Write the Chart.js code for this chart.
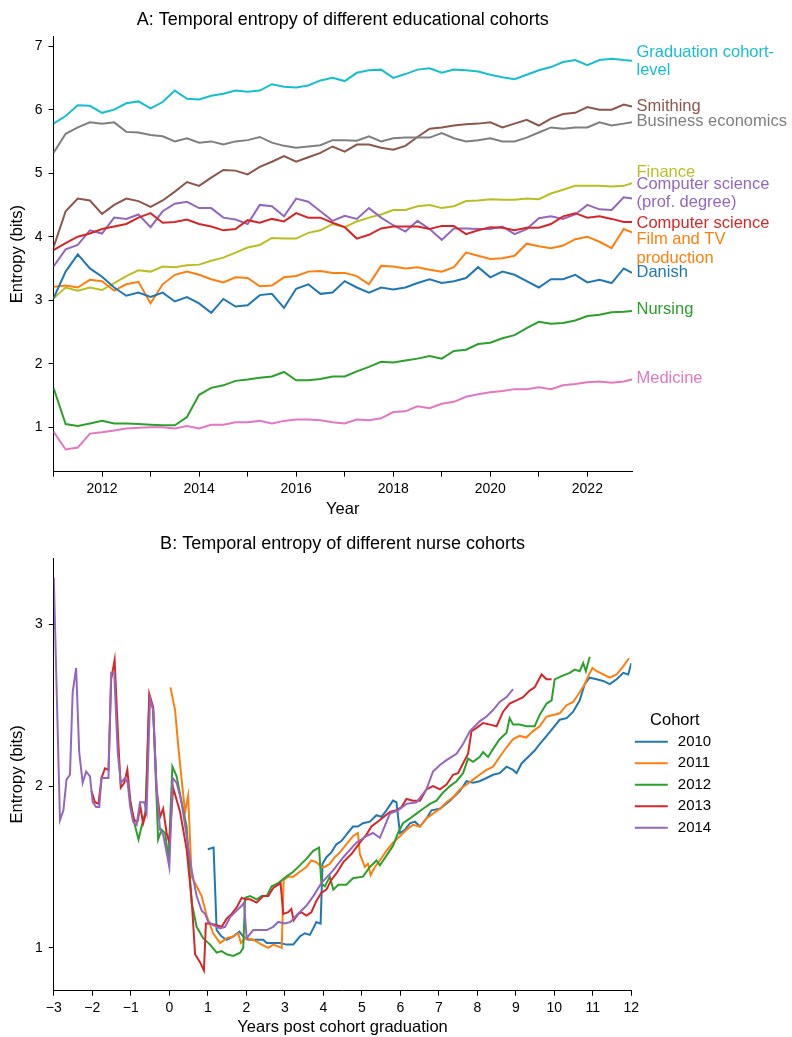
<!DOCTYPE html>
<html>
<head>
<meta charset="utf-8">
<script src="https://cdn.jsdelivr.net/npm/chart.js@4.4.1/dist/chart.umd.min.js"></script>
<style>
  html, body { margin: 0; padding: 0; background: #fff; }
  #wrap { position: relative; width: 792px; height: 1037px; }
  canvas { position: absolute; left: 0; }
  #chartA { top: 0; }
  #chartB { top: 525px; }
</style>
</head>
<body>
<div id="wrap">
  <canvas id="chartA" width="792" height="525"></canvas>
  <canvas id="chartB" width="792" height="512"></canvas>
</div>
<script>
// ---- Panel A: quarterly readings, Jan 2011 to Dec 2022 ----
const years = [
  2011, 2011.25, 2011.5, 2011.75, 2012, 2012.25, 2012.5, 2012.75,
  2013, 2013.25, 2013.5, 2013.75, 2014, 2014.25, 2014.5, 2014.75,
  2015, 2015.25, 2015.5, 2015.75, 2016, 2016.25, 2016.5, 2016.75,
  2017, 2017.25, 2017.5, 2017.75, 2018, 2018.25, 2018.5, 2018.75,
  2019, 2019.25, 2019.5, 2019.75, 2020, 2020.25, 2020.5, 2020.75,
  2021, 2021.25, 2021.5, 2021.75, 2022, 2022.25, 2022.5, 2022.75, 2022.92
]
const yearTicks = [2011, 2012, 2013, 2014, 2015, 2016, 2017, 2018, 2019, 2020, 2021, 2022]
const entropyTicksA = [1, 2, 3, 4, 5, 6, 7]

const gradCohort = [
  5.78, 5.9, 6.07, 6.06, 5.95, 6.0, 6.1, 6.13, 6.02, 6.12, 6.3, 6.17,
  6.16, 6.22, 6.25, 6.3, 6.28, 6.3, 6.4, 6.36, 6.35, 6.38, 6.46, 6.5,
  6.45, 6.58, 6.62, 6.63, 6.5, 6.56, 6.63, 6.65, 6.58, 6.63, 6.62, 6.6,
  6.55, 6.51, 6.48, 6.55, 6.62, 6.67, 6.75, 6.78, 6.7, 6.78, 6.8, 6.78, 6.77
]
const smithing = [
  3.83, 4.4, 4.6, 4.57, 4.36, 4.5, 4.6, 4.56, 4.47, 4.57, 4.71, 4.86,
  4.8, 4.93, 5.05, 5.04, 4.98, 5.1, 5.18, 5.27, 5.18, 5.25, 5.32, 5.42,
  5.34, 5.45, 5.45, 5.4, 5.37, 5.43, 5.57, 5.7, 5.72, 5.75, 5.77, 5.78,
  5.8, 5.72, 5.78, 5.84, 5.75, 5.86, 5.93, 5.95, 6.04, 6.0, 6.0, 6.08, 6.05
]
const businessEcon = [
  5.32, 5.62, 5.72, 5.8, 5.78, 5.8, 5.65, 5.64, 5.6, 5.58, 5.5, 5.55,
  5.48, 5.5, 5.45, 5.5, 5.52, 5.57, 5.48, 5.43, 5.4, 5.42, 5.44, 5.52,
  5.52, 5.51, 5.58, 5.5, 5.55, 5.56, 5.56, 5.56, 5.63, 5.55, 5.5, 5.52,
  5.55, 5.5, 5.5, 5.56, 5.64, 5.72, 5.7, 5.72, 5.72, 5.8, 5.75, 5.78, 5.8
]
const finance = [
  3.03, 3.2, 3.15, 3.2, 3.16, 3.27, 3.38, 3.47, 3.45, 3.53, 3.52, 3.55,
  3.56, 3.62, 3.67, 3.75, 3.83, 3.87, 3.98, 3.97, 3.97, 4.06, 4.1, 4.2,
  4.15, 4.24, 4.3, 4.35, 4.42, 4.42, 4.48, 4.5, 4.45, 4.48, 4.56, 4.57,
  4.59, 4.58, 4.58, 4.6, 4.59, 4.68, 4.74, 4.8, 4.8, 4.8, 4.79, 4.8, 4.84
]
const compSciProf = [
  3.53, 3.8, 3.87, 4.1, 4.05, 4.3, 4.28, 4.35, 4.15, 4.4, 4.52, 4.55,
  4.45, 4.45, 4.3, 4.27, 4.2, 4.5, 4.48, 4.32, 4.6, 4.55, 4.4, 4.25,
  4.33, 4.28, 4.45, 4.3, 4.18, 4.08, 4.25, 4.12, 3.95, 4.13, 4.13, 4.12,
  4.12, 4.16, 4.04, 4.12, 4.29, 4.32, 4.28, 4.35, 4.5, 4.43, 4.42, 4.62, 4.6
]
const compSci = [
  3.79, 3.9, 4.0, 4.05, 4.12, 4.16, 4.2, 4.3, 4.37, 4.22, 4.23, 4.27,
  4.2, 4.16, 4.1, 4.12, 4.26, 4.22, 4.28, 4.24, 4.37, 4.3, 4.3, 4.22,
  4.15, 3.97, 4.03, 4.13, 4.16, 4.16, 4.16, 4.12, 4.17, 4.17, 4.04, 4.1,
  4.15, 4.14, 4.1, 4.14, 4.14, 4.2, 4.32, 4.37, 4.3, 4.32, 4.28, 4.23, 4.23
]
const filmTv = [
  3.21, 3.23, 3.2, 3.32, 3.3, 3.15, 3.25, 3.29, 2.95, 3.25, 3.4, 3.45,
  3.4, 3.33, 3.28, 3.36, 3.35, 3.22, 3.23, 3.36, 3.38, 3.45, 3.46, 3.43,
  3.43, 3.38, 3.25, 3.54, 3.53, 3.5, 3.52, 3.48, 3.45, 3.52, 3.75, 3.7,
  3.65, 3.66, 3.7, 3.89, 3.85, 3.82, 3.86, 3.96, 4.0, 3.92, 3.82, 4.12, 4.07
]
const danish = [
  3.03, 3.45, 3.72, 3.5, 3.37, 3.2, 3.07, 3.12, 3.05, 3.12, 2.98, 3.05,
  2.95, 2.8, 3.02, 2.9, 2.92, 3.08, 3.1, 2.88, 3.18, 3.25, 3.1, 3.12,
  3.3, 3.2, 3.12, 3.2, 3.17, 3.2, 3.27, 3.33, 3.27, 3.3, 3.35, 3.52,
  3.36, 3.45, 3.4, 3.3, 3.2, 3.33, 3.33, 3.4, 3.28, 3.32, 3.27, 3.5, 3.43
]
const nursing = [
  1.62, 1.05, 1.02, 1.06, 1.1, 1.06, 1.06, 1.05, 1.04, 1.03, 1.03, 1.16,
  1.51, 1.62, 1.66, 1.73, 1.75, 1.78, 1.8, 1.87, 1.74, 1.74, 1.76, 1.8,
  1.8, 1.88, 1.95, 2.03, 2.02, 2.05, 2.08, 2.12, 2.08, 2.2, 2.22, 2.31,
  2.33, 2.4, 2.45, 2.56, 2.66, 2.63, 2.64, 2.68, 2.75, 2.77, 2.81, 2.82, 2.83
]
const medicine = [
  0.93, 0.65, 0.68, 0.9, 0.92, 0.95, 0.98, 0.99, 1.0, 1.0, 0.98, 1.02,
  0.98, 1.04, 1.04, 1.08, 1.08, 1.1, 1.06, 1.1, 1.12, 1.12, 1.11, 1.08,
  1.06, 1.12, 1.11, 1.14, 1.24, 1.25, 1.33, 1.3, 1.37, 1.4, 1.48, 1.52,
  1.55, 1.57, 1.6, 1.6, 1.63, 1.6, 1.66, 1.68, 1.71, 1.72, 1.7, 1.72, 1.75
]

// ---- Panel B: [years post graduation, entropy] per nurse cohort ----
const cohortYears = ['2010', '2011', '2012', '2013', '2014']
const yearsPostTicks = [-3, -2, -1, 0, 1, 2, 3, 4, 5, 6, 7, 8, 9, 10, 11, 12]
const entropyTicksB = [1, 2, 3]

const cohort2010 = [
  [1.0, 1.61], [1.15, 1.62], [1.23, 1.11], [1.36, 1.07], [1.49, 1.05], [1.66, 1.07], [1.82, 1.1],
  [1.92, 1.07], [2.05, 1.05], [2.27, 1.05], [2.44, 1.05], [2.53, 1.03], [2.7, 1.03], [2.87, 1.03],
  [3.05, 1.02], [3.22, 1.02], [3.39, 1.07], [3.52, 1.09], [3.65, 1.08], [3.74, 1.12], [3.82, 1.16],
  [3.93, 1.15], [3.98, 1.52], [4.08, 1.56], [4.21, 1.59], [4.34, 1.64], [4.47, 1.66], [4.6, 1.7],
  [4.77, 1.75], [4.9, 1.75], [5.03, 1.77], [5.21, 1.78], [5.38, 1.82], [5.51, 1.81], [5.64, 1.85],
  [5.81, 1.91], [5.9, 1.9], [5.99, 1.71], [6.12, 1.73], [6.25, 1.77], [6.38, 1.78], [6.51, 1.75],
  [6.68, 1.8], [6.81, 1.85], [7.03, 1.86], [7.29, 1.91], [7.55, 1.97], [7.72, 2.03], [7.89, 2.02],
  [8.06, 2.03], [8.24, 2.05], [8.41, 2.07], [8.58, 2.08], [8.76, 2.12], [8.93, 2.1], [9.02, 2.08],
  [9.15, 2.14], [9.32, 2.18], [9.49, 2.22], [9.62, 2.26], [9.8, 2.31], [9.97, 2.36], [10.14, 2.41],
  [10.32, 2.42], [10.49, 2.46], [10.66, 2.53], [10.79, 2.63], [10.92, 2.67], [11.1, 2.66],
  [11.27, 2.65], [11.44, 2.63], [11.62, 2.66], [11.79, 2.7], [11.92, 2.69], [12.0, 2.76]
]
const cohort2011 = [
  [0.03, 2.61], [0.15, 2.47], [0.24, 2.23], [0.32, 2.04], [0.41, 1.84], [0.49, 1.94], [0.58, 1.44],
  [0.67, 1.4], [0.84, 1.32], [0.97, 1.2], [1.14, 1.09], [1.32, 1.03], [1.49, 1.06], [1.66, 1.07],
  [1.79, 1.09], [1.86, 1.03], [1.97, 1.06], [2.18, 1.05], [2.4, 1.02], [2.57, 1.0], [2.7, 1.02],
  [2.92, 1.0], [2.97, 1.42], [3.09, 1.44], [3.22, 1.44], [3.39, 1.47], [3.56, 1.5], [3.69, 1.54],
  [3.82, 1.53], [3.95, 1.5], [4.04, 1.5], [4.17, 1.52], [4.3, 1.56], [4.43, 1.59], [4.6, 1.64],
  [4.77, 1.69], [4.9, 1.71], [4.95, 1.58], [5.08, 1.5], [5.16, 1.52], [5.23, 1.45], [5.34, 1.5],
  [5.47, 1.54], [5.64, 1.6], [5.81, 1.65], [5.99, 1.69], [6.16, 1.73], [6.33, 1.76], [6.51, 1.75],
  [6.68, 1.8], [6.85, 1.83], [7.03, 1.86], [7.2, 1.9], [7.37, 1.93], [7.55, 1.98], [7.72, 2.01],
  [7.89, 2.04], [8.06, 2.07], [8.24, 2.1], [8.41, 2.12], [8.58, 2.18], [8.76, 2.24], [8.93, 2.29],
  [9.1, 2.31], [9.27, 2.3], [9.45, 2.34], [9.62, 2.37], [9.8, 2.43], [9.97, 2.44], [10.14, 2.45],
  [10.32, 2.5], [10.49, 2.52], [10.66, 2.58], [10.79, 2.63], [10.88, 2.68], [10.99, 2.73],
  [11.1, 2.71], [11.27, 2.69], [11.44, 2.67], [11.62, 2.69], [11.79, 2.74], [11.94, 2.79]
]
const cohort2012 = [
  [-1.0, 1.9], [-0.94, 1.8], [-0.8, 1.67], [-0.72, 1.75], [-0.62, 1.84], [-0.52, 2.54], [-0.42, 2.48],
  [-0.29, 1.67], [-0.2, 1.73], [-0.11, 1.71], [-0.02, 1.55], [0.08, 2.12], [0.19, 2.06], [0.32, 1.9],
  [0.45, 1.75], [0.58, 1.28], [0.71, 1.13], [0.88, 1.06], [1.06, 1.02], [1.23, 0.97], [1.36, 0.98],
  [1.49, 0.96], [1.66, 0.95], [1.84, 0.97], [1.92, 1.0], [1.97, 1.31], [2.1, 1.32], [2.27, 1.3],
  [2.4, 1.32], [2.53, 1.32], [2.66, 1.38], [2.83, 1.4], [3.04, 1.44], [3.22, 1.47], [3.39, 1.51],
  [3.56, 1.55], [3.74, 1.6], [3.89, 1.62], [3.95, 1.4], [4.04, 1.38], [4.17, 1.44], [4.26, 1.36],
  [4.39, 1.39], [4.6, 1.39], [4.77, 1.43], [5.03, 1.44], [5.21, 1.5], [5.38, 1.54], [5.47, 1.51],
  [5.64, 1.57], [5.81, 1.63], [5.94, 1.71], [6.07, 1.77], [6.25, 1.8], [6.42, 1.83], [6.59, 1.86],
  [6.77, 1.89], [6.94, 1.91], [7.11, 1.96], [7.29, 2.0], [7.46, 2.03], [7.63, 2.08], [7.76, 2.17],
  [7.89, 2.15], [8.06, 2.18], [8.15, 2.21], [8.28, 2.18], [8.41, 2.23], [8.58, 2.29], [8.76, 2.33],
  [8.84, 2.42], [8.93, 2.38], [9.1, 2.38], [9.27, 2.37], [9.49, 2.37], [9.62, 2.44], [9.8, 2.51],
  [9.93, 2.53], [10.01, 2.66], [10.19, 2.68], [10.4, 2.7], [10.53, 2.72], [10.66, 2.71],
  [10.75, 2.76], [10.82, 2.71], [10.92, 2.8]
]
const cohort2013 = [
  [-2.02, 1.97], [-1.93, 1.9], [-1.84, 1.89], [-1.76, 2.05], [-1.67, 2.11], [-1.58, 2.1], [-1.51, 2.66],
  [-1.42, 2.78], [-1.32, 2.25], [-1.26, 1.99], [-1.17, 2.02], [-1.09, 2.1], [-1.0, 1.88], [-0.91, 1.79],
  [-0.83, 1.78], [-0.75, 1.87], [-0.68, 1.77], [-0.61, 1.83], [-0.52, 2.57], [-0.42, 2.49],
  [-0.33, 1.98], [-0.24, 1.81], [-0.16, 1.86], [-0.07, 1.71], [0.0, 1.65], [0.1, 1.99], [0.28, 1.84],
  [0.45, 1.61], [0.58, 1.3], [0.67, 0.96], [0.8, 0.91], [0.9, 0.86], [0.95, 1.15], [1.06, 1.15],
  [1.23, 1.14], [1.36, 1.13], [1.49, 1.18], [1.62, 1.21], [1.75, 1.25], [1.88, 1.31], [1.97, 1.3],
  [2.1, 1.3], [2.27, 1.28], [2.44, 1.32], [2.57, 1.32], [2.7, 1.37], [2.89, 1.4], [2.96, 1.21],
  [3.09, 1.22], [3.17, 1.24], [3.23, 1.17], [3.35, 1.21], [3.43, 1.22], [3.56, 1.2], [3.69, 1.22],
  [3.82, 1.29], [3.95, 1.34], [4.08, 1.36], [4.21, 1.42], [4.34, 1.46], [4.52, 1.53], [4.73, 1.58],
  [4.95, 1.65], [5.12, 1.7], [5.25, 1.75], [5.47, 1.79], [5.73, 1.84], [5.9, 1.85], [6.03, 1.87],
  [6.16, 1.92], [6.33, 1.91], [6.51, 1.91], [6.68, 1.98], [6.85, 2.0], [7.03, 1.98], [7.2, 2.01],
  [7.37, 2.07], [7.5, 2.08], [7.63, 2.14], [7.76, 2.2], [7.85, 2.34], [7.98, 2.36], [8.15, 2.39],
  [8.33, 2.38], [8.5, 2.37], [8.67, 2.46], [8.84, 2.51], [9.02, 2.53], [9.19, 2.55], [9.36, 2.59],
  [9.49, 2.61], [9.67, 2.69], [9.8, 2.66], [9.93, 2.66]
]
const cohort2014 = [
  [-3.0, 3.29], [-2.84, 1.79], [-2.75, 1.85], [-2.67, 2.04], [-2.58, 2.07], [-2.51, 2.58], [-2.42, 2.73],
  [-2.34, 2.21], [-2.25, 2.02], [-2.16, 2.09], [-2.06, 2.06], [-1.99, 1.9], [-1.9, 1.87], [-1.82, 1.87],
  [-1.76, 2.05], [-1.58, 2.05], [-1.51, 2.7], [-1.43, 2.7], [-1.34, 2.21], [-1.26, 2.02], [-1.15, 2.05],
  [-1.08, 2.02], [-1.02, 1.88], [-0.94, 1.78], [-0.85, 1.76], [-0.76, 1.9], [-0.65, 1.9], [-0.59, 1.84],
  [-0.5, 2.54], [-0.42, 2.47], [-0.33, 1.98], [-0.24, 1.73], [-0.16, 1.7], [-0.07, 1.59], [0.0, 1.5],
  [0.09, 2.05], [0.19, 2.02], [0.32, 1.9], [0.45, 1.69], [0.58, 1.48], [0.71, 1.32], [0.84, 1.23],
  [0.93, 1.21], [1.01, 1.16], [1.14, 1.14], [1.32, 1.12], [1.45, 1.13], [1.58, 1.19], [1.75, 1.23],
  [1.88, 1.26], [1.94, 1.28], [2.01, 1.06], [2.18, 1.11], [2.36, 1.11], [2.53, 1.11], [2.7, 1.13],
  [2.83, 1.16], [3.0, 1.15], [3.15, 1.16], [3.3, 1.2], [3.56, 1.26], [3.74, 1.32], [3.95, 1.4],
  [4.26, 1.48], [4.52, 1.56], [4.86, 1.65], [5.12, 1.69], [5.29, 1.71], [5.47, 1.68], [5.73, 1.83],
  [5.94, 1.85], [6.16, 1.89], [6.42, 1.9], [6.68, 1.98], [6.85, 2.09], [7.03, 2.13], [7.2, 2.16],
  [7.46, 2.2], [7.63, 2.26], [7.81, 2.34], [8.06, 2.4], [8.24, 2.43], [8.41, 2.47], [8.58, 2.52],
  [8.76, 2.55], [8.93, 2.6]
]

const FONT = '"Liberation Sans", Arial, Helvetica, sans-serif'
Chart.defaults.font.family = FONT
Chart.defaults.color = '#000'

// end-of-line labels for panel A, placed at an entropy value next to the axes
const seriesA = [
  { values: gradCohort, color: '#17becf', text: ['Graduation cohort-', 'level'], labelAt: 6.755 },
  { values: smithing, color: '#8c564b', text: ['Smithing'], labelAt: 6.057 },
  { values: businessEcon, color: '#7f7f7f', text: ['Business economics'], labelAt: 5.82 },
  { values: finance, color: '#bcbd22', text: ['Finance'], labelAt: 5.015 },
  { values: compSciProf, color: '#9467bd', text: ['Computer science', '(prof. degree)'], labelAt: 4.676 },
  { values: compSci, color: '#d62728', text: ['Computer science'], labelAt: 4.205 },
  { values: filmTv, color: '#ff7f0e', text: ['Film and TV', 'production'], labelAt: 3.807 },
  { values: danish, color: '#1f77b4', text: ['Danish'], labelAt: 3.436 },
  { values: nursing, color: '#2ca02c', text: ['Nursing'], labelAt: 2.858 },
  { values: medicine, color: '#e377c2', text: ['Medicine'], labelAt: 1.769 }
]

const seriesB = [
  { points: cohort2010, color: '#1f77b4' },
  { points: cohort2011, color: '#ff7f0e' },
  { points: cohort2012, color: '#2ca02c' },
  { points: cohort2013, color: '#d62728' },
  { points: cohort2014, color: '#9467bd' }
]

const minus = (v) => (v < 0 ? '\u2212' + Math.abs(v) : String(v))

function axisStyle(extra) {
  return Object.assign({
    type: 'linear',
    grid: { drawOnChartArea: false, drawTicks: true, tickLength: 5, tickWidth: 1, tickColor: '#000' },
    border: { display: true, color: '#000', width: 1 },
    ticks: { font: { size: 14 }, color: '#000', autoSkip: false, maxRotation: 0 }
  }, extra)
}

const endLabels = {
  id: 'endLabels',
  afterDatasetsDraw(chart) {
    const { ctx, chartArea, scales } = chart
    ctx.save()
    ctx.font = '16.5px ' + FONT
    ctx.textAlign = 'left'
    ctx.textBaseline = 'middle'
    seriesA.forEach((s) => {
      const mid = scales.y.getPixelForValue(s.labelAt)
      ctx.fillStyle = s.color
      s.text.forEach((line, i) => {
        ctx.fillText(line, chartArea.right + 4.5, mid + (i - (s.text.length - 1) / 2) * 18.4)
      })
    })
    ctx.restore()
  }
}

const cohortLegend = {
  id: 'cohortLegend',
  afterDraw(chart) {
    const { ctx, chartArea } = chart
    const mid = (chartArea.top + chartArea.bottom) / 2
    const x0 = chartArea.right + 3.5
    ctx.save()
    ctx.textBaseline = 'middle'
    ctx.fillStyle = '#000'
    ctx.font = '16.5px ' + FONT
    ctx.textAlign = 'center'
    ctx.fillText('Cohort', x0 + 40, mid - 54)
    ctx.font = '15px ' + FONT
    ctx.textAlign = 'left'
    chart.data.datasets.forEach((ds, i) => {
      const y = mid - 32.5 + i * 21.5
      ctx.strokeStyle = ds.borderColor
      ctx.lineWidth = 2
      ctx.beginPath()
      ctx.moveTo(x0, y)
      ctx.lineTo(x0 + 33, y)
      ctx.stroke()
      ctx.fillText(ds.label, x0 + 43, y)
    })
    ctx.restore()
  }
}

new Chart(document.getElementById('chartA'), {
  type: 'line',
  data: {
    datasets: seriesA.map((s, i) => ({
      label: s.text.join(' '),
      data: years.map((x, j) => ({ x, y: s.values[j] })),
      borderColor: s.color,
      borderWidth: 2,
      pointRadius: 0,
      tension: 0,
      fill: false,
      order: seriesA.length - i
    }))
  },
  options: {
    responsive: false,
    animation: false,
    layout: { padding: { left: 0, right: 160, top: 0, bottom: 0 } },
    plugins: {
      legend: { display: false },
      tooltip: { enabled: false },
      title: {
        display: true,
        fullSize: false,
        text: 'A: Temporal entropy of different educational cohorts',
        color: '#000',
        font: { size: 18, weight: 'normal' },
        padding: { top: 9, bottom: 6 }
      }
    },
    scales: {
      x: axisStyle({
        min: 2011,
        max: 2022.92,
        afterBuildTicks: (scale) => { scale.ticks = yearTicks.map((v) => ({ value: v })) },
        afterFit: (scale) => { scale.height = 53.3 },
        ticks: { font: { size: 14 }, color: '#000', autoSkip: false, maxRotation: 0, padding: 4,
          callback: (v) => (v % 2 === 0 ? String(v) : '') },
        title: { display: true, text: 'Year', color: '#000', font: { size: 16.5 }, padding: { top: 0, bottom: 6 } }
      }),
      y: axisStyle({
        min: 0.3,
        max: 7.15,
        afterBuildTicks: (scale) => { scale.ticks = entropyTicksA.map((v) => ({ value: v })) },
        afterFit: (scale) => { scale.width = 53.5 },
        ticks: { font: { size: 14 }, color: '#000', padding: 6, callback: (v) => String(v) },
        title: { display: true, text: 'Entropy (bits)', color: '#000', font: { size: 16.5 }, padding: { top: 8, bottom: 0 } }
      })
    }
  },
  plugins: [endLabels]
})

new Chart(document.getElementById('chartB'), {
  type: 'line',
  data: {
    datasets: seriesB.map((s, i) => ({
      label: cohortYears[i],
      data: s.points.map(([x, y]) => ({ x, y })),
      borderColor: s.color,
      borderWidth: 2,
      pointRadius: 0,
      tension: 0,
      fill: false,
      order: seriesB.length - i
    }))
  },
  options: {
    responsive: false,
    animation: false,
    layout: { padding: { left: 0, right: 160.7, top: 0, bottom: 0 } },
    plugins: {
      legend: { display: false },
      tooltip: { enabled: false },
      title: {
        display: true,
        fullSize: false,
        text: 'B: Temporal entropy of different nurse cohorts',
        color: '#000',
        font: { size: 18, weight: 'normal' },
        padding: { top: 8, bottom: 3.4 }
      }
    },
    scales: {
      x: axisStyle({
        min: -3,
        max: 12,
        afterBuildTicks: (scale) => { scale.ticks = yearsPostTicks.map((v) => ({ value: v })) },
        afterFit: (scale) => { scale.height = 46.3 },
        ticks: { font: { size: 14 }, color: '#000', autoSkip: false, maxRotation: 0, padding: 4, callback: minus },
        title: { display: true, text: 'Years post cohort graduation', color: '#000', font: { size: 16.5 }, padding: { top: 0, bottom: 0 } }
      }),
      y: axisStyle({
        min: 0.735,
        max: 3.41,
        afterBuildTicks: (scale) => { scale.ticks = entropyTicksB.map((v) => ({ value: v })) },
        afterFit: (scale) => { scale.width = 53.8 },
        ticks: { font: { size: 14 }, color: '#000', padding: 6, callback: (v) => String(v) },
        title: { display: true, text: 'Entropy (bits)', color: '#000', font: { size: 16.5 }, padding: { top: 8, bottom: 0 } }
      })
    }
  },
  plugins: [cohortLegend]
})
</script>
</body>
</html>
